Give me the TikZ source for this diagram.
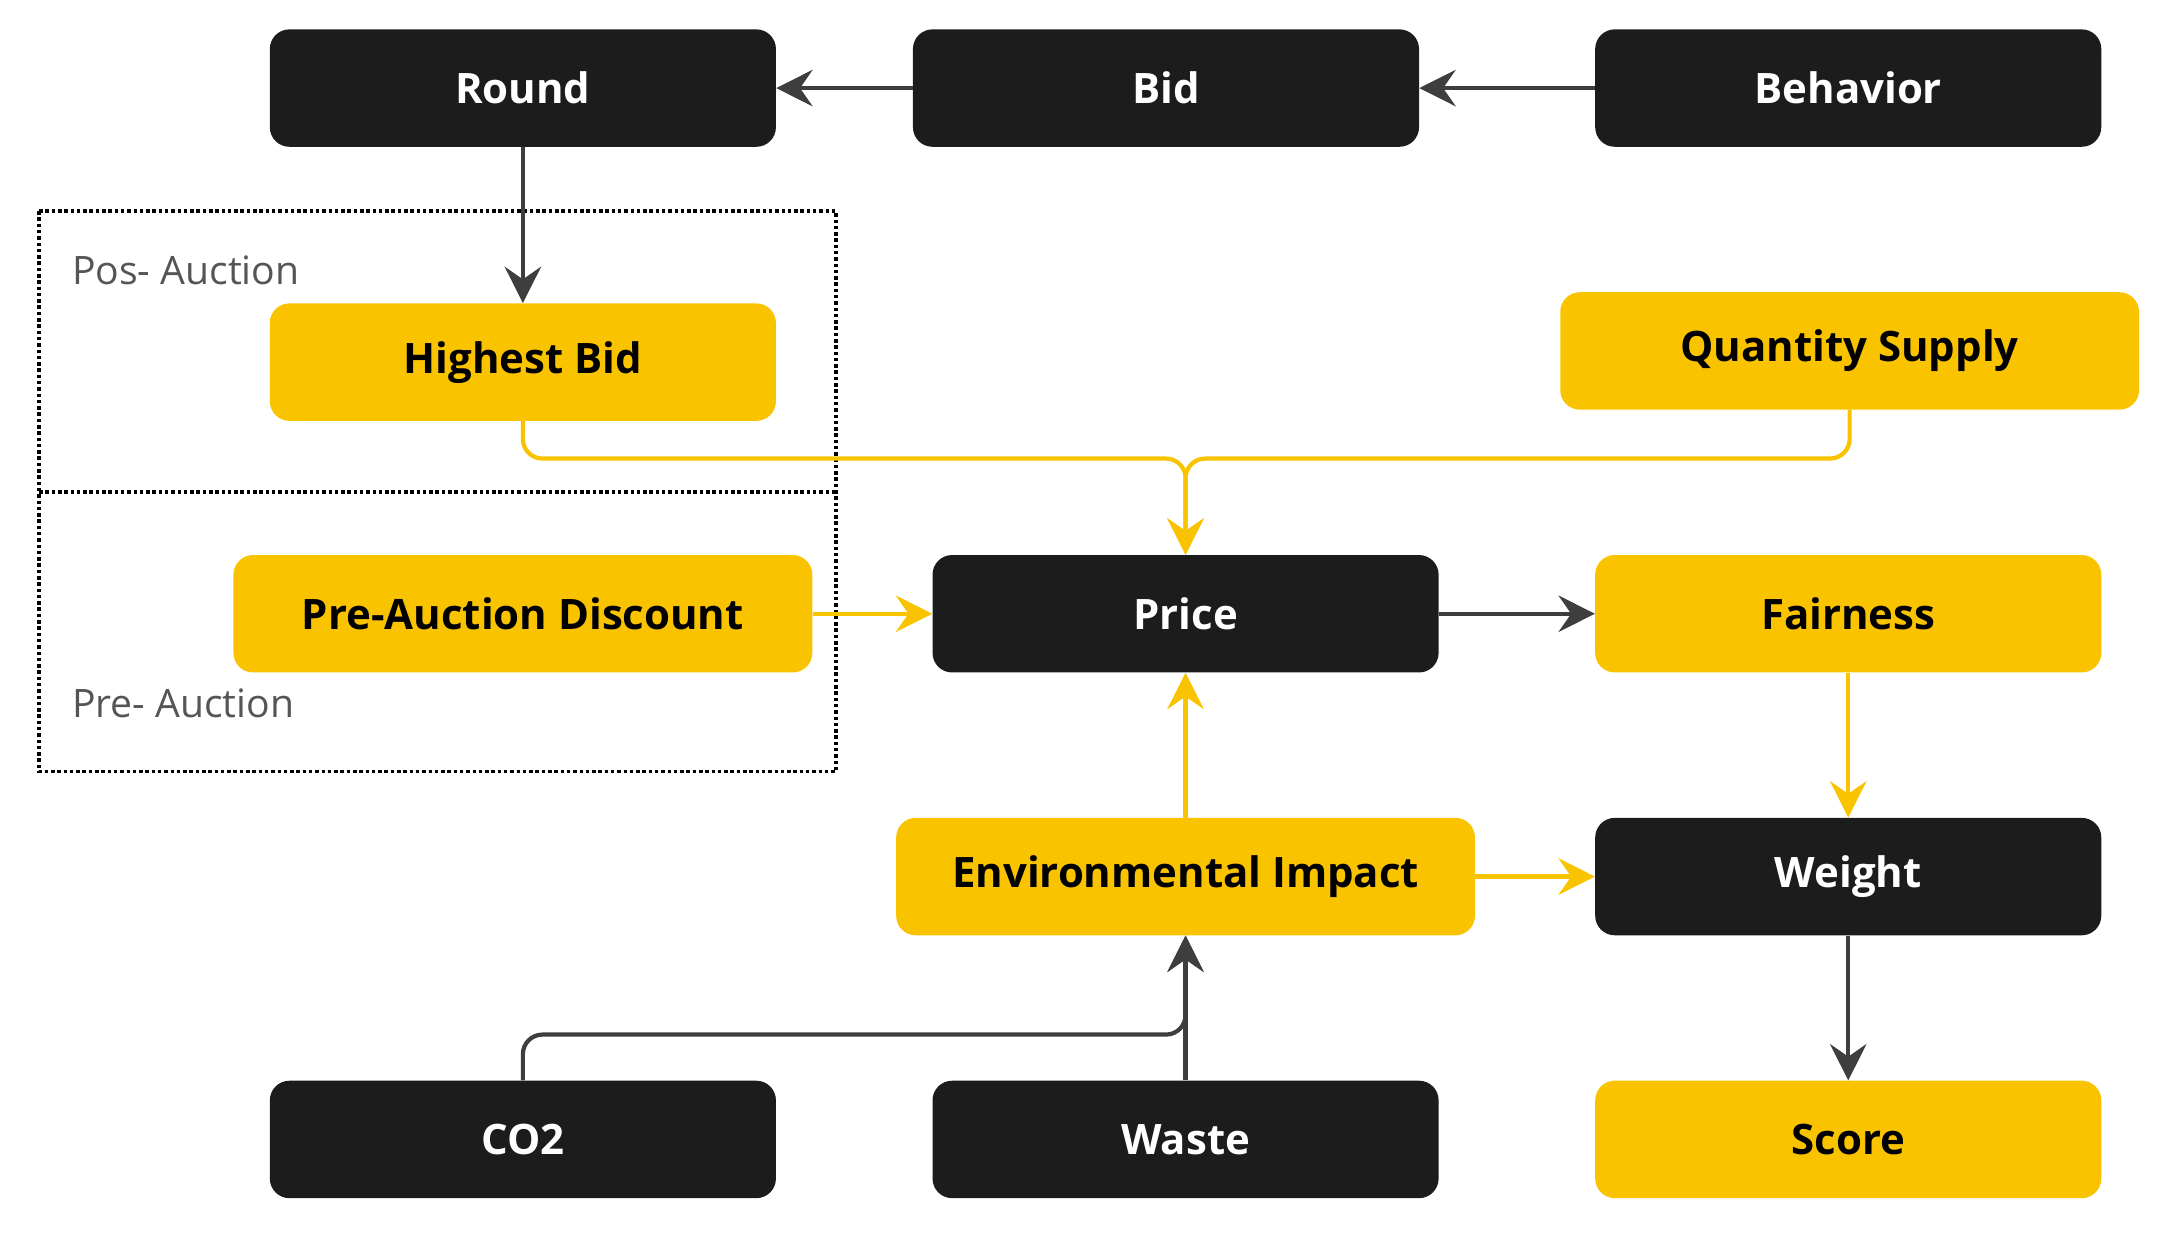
\documentclass[tikz,border=0pt]{standalone}
\usepackage{fontspec}
\setmainfont{Open Sans}
\usetikzlibrary{arrows.meta}
\definecolor{dk}{HTML}{1C1C1C}
\definecolor{yl}{HTML}{FAC300}
\definecolor{gy}{HTML}{555555}
\begin{document}
\begin{tikzpicture}[x=1pt,y=-1pt,
 bx/.style={rounded corners=14pt,minimum height=84pt,inner sep=0pt,font=\fontsize{30}{34}\selectfont\bfseries},
 dkb/.style={bx,fill=dk,text=white},
 ylb/.style={bx,fill=yl,text=black},
 a/.style={line width=3pt,-{Stealth[length=26pt,width=26pt,inset=9pt]}},
 ad/.style={a,draw=dk!85!white},
 ay/.style={a,draw=yl}]
\useasboundingbox (0,0) rectangle (1545,884);
\node[dkb,minimum width=362pt] (round) at (374,63) {Round};
\node[dkb,minimum width=362pt] (bid) at (834,63) {Bid};
\node[dkb,minimum width=362pt] (beh) at (1322,63) {Behavior};
\node[ylb,minimum width=362pt] (hb) at (374,259) {Highest Bid};
\node[ylb,minimum width=414pt] (qs) at (1323,251) {Quantity Supply};
\node[ylb,minimum width=414pt] (pad) at (374,439) {Pre-Auction Discount};
\node[dkb,minimum width=362pt] (price) at (848,439) {Price};
\node[ylb,minimum width=362pt] (fair) at (1322,439) {Fairness};
\node[ylb,minimum width=414pt] (env) at (848,627) {Environmental Impact};
\node[dkb,minimum width=362pt] (wt) at (1322,627) {Weight};
\node[dkb,minimum width=362pt] (co2) at (374,815) {CO2};
\node[dkb,minimum width=362pt] (waste) at (848,815) {Waste};
\node[ylb,minimum width=362pt] (score) at (1322,815) {Score};
\draw[line width=2.5pt,dotted] (28,151) rectangle (598,552);
\draw[line width=2.5pt,dotted] (28,352) -- (598,352);
\node[anchor=west,text=gy,font=\fontsize{28}{32}\selectfont] (pos) at (48,193) {Pos- Auction};
\node[anchor=west,text=gy,font=\fontsize{28}{32}\selectfont] (pre) at (48,503) {Pre- Auction};
\coordinate (mid) at (848,328);
\draw[ad] (bid) -- (round);
\draw[ad] (beh) -- (bid);
\draw[ad] (round) -- (hb);
\draw[ay,rounded corners=14pt] (hb.south) |- (mid) -- (price.north);
\draw[ay,rounded corners=14pt] (qs.south) |- (mid) -- (price.north);
\draw[ay] (pad) -- (price);
\draw[ad] (price) -- (fair);
\draw[ay] (fair) -- (wt);
\draw[ay] (env) -- (price);
\draw[ay] (env) -- (wt);
\draw[ad] (wt) -- (score);
\draw[ad,rounded corners=14pt] (co2.north) |- (848,740) -- (env.south);
\draw[ad] (waste) -- (env);
\end{tikzpicture}
\end{document}
